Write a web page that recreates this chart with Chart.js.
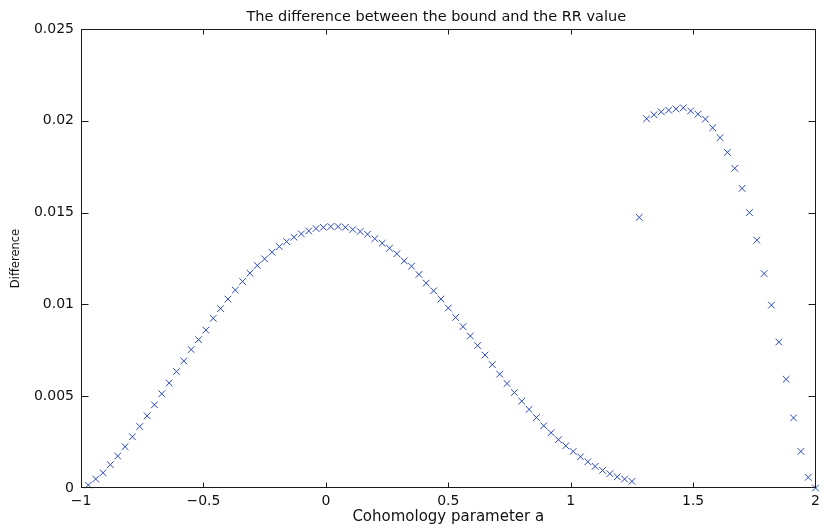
<!DOCTYPE html>
<html>
<head>
<meta charset="utf-8">
<script src="https://cdn.jsdelivr.net/npm/chart.js@4.4.0/dist/chart.umd.min.js"></script>
<style>
html, body { margin: 0; padding: 0; background: #fff; }
#wrap { width: 825px; height: 529px; }
</style>
</head>
<body>
<div id="wrap"><canvas id="chart" width="825" height="529"></canvas></div>
<script>
// Cohomology parameter a (x values of the markers)
const paramA = [
    -0.97, -0.94, -0.91, -0.88, -0.85, -0.82, -0.79, -0.76, -0.73, -0.70,
    -0.67, -0.64, -0.61, -0.58, -0.55, -0.52, -0.49, -0.46, -0.43, -0.40,
    -0.37, -0.34, -0.31, -0.28, -0.25, -0.22, -0.19, -0.16, -0.13, -0.10,
    -0.07, -0.04, -0.01, 0.02, 0.05, 0.08, 0.11, 0.14, 0.17, 0.20,
    0.23, 0.26, 0.29, 0.32, 0.35, 0.38, 0.41, 0.44, 0.47, 0.50,
    0.53, 0.56, 0.59, 0.62, 0.65, 0.68, 0.71, 0.74, 0.77, 0.80,
    0.83, 0.86, 0.89, 0.92, 0.95, 0.98, 1.01, 1.04, 1.07, 1.10,
    1.13, 1.16, 1.19, 1.22, 1.25, 1.28, 1.31, 1.34, 1.37, 1.40,
    1.43, 1.46, 1.49, 1.52, 1.55, 1.58, 1.61, 1.64, 1.67, 1.70,
    1.73, 1.76, 1.79, 1.82, 1.85, 1.88, 1.91, 1.94, 1.97, 2.00
];

// Difference between the bound and the RR value
const difference = [
    0.00016, 0.00049, 0.00083, 0.00127, 0.00174, 0.00225, 0.00279, 0.00335, 0.00393, 0.00453,
    0.00513, 0.00572, 0.00634, 0.00692, 0.00754, 0.00808, 0.00860, 0.00924, 0.00977, 0.01029,
    0.01078, 0.01125, 0.01170, 0.01212, 0.01248, 0.01284, 0.01315, 0.01342, 0.01366, 0.01384,
    0.01400, 0.01413, 0.01420, 0.01424, 0.01424, 0.01420, 0.01408, 0.01397, 0.01382, 0.01358,
    0.01333, 0.01306, 0.01276, 0.01237, 0.01208, 0.01163, 0.01116, 0.01074, 0.01029, 0.00980,
    0.00929, 0.00879, 0.00828, 0.00776, 0.00724, 0.00672, 0.00620, 0.00569, 0.00520, 0.00473,
    0.00428, 0.00384, 0.00339, 0.00301, 0.00263, 0.00230, 0.00199, 0.00170, 0.00143, 0.00118,
    0.00096, 0.00078, 0.00061, 0.00049, 0.00036, 0.01474, 0.02011, 0.02033, 0.02049, 0.02058,
    0.02065, 0.02071, 0.02054, 0.02036, 0.02009, 0.01962, 0.01908, 0.01828, 0.01741, 0.01632,
    0.01500, 0.01350, 0.01168, 0.00996, 0.00795, 0.00592, 0.00382, 0.00199, 0.00058, 0.00000
];

const chartTitle = 'The difference between the bound and the RR value';
const xTitle = 'Cohomology parameter a';
const yTitle = 'Difference';

// Colors / fonts
const markerBlue = 'rgb(40, 70, 190)';
const axisColor = '#1a1a1a';
const fontFamily = '"DejaVu Sans", Verdana, sans-serif';

// MATLAB-like box, inward ticks and title
const matlabBox = {
    id: 'matlabBox',
    afterDraw(chart) {
        const ctx = chart.ctx;
        const a = chart.chartArea;
        const x = chart.scales.x;
        const y = chart.scales.y;
        const L = Math.round(a.left) + 0.5;
        const R = Math.round(a.right) - 0.5;
        const T = Math.round(a.top) + 0.5;
        const B = Math.round(a.bottom) - 0.5;
        ctx.save();
        ctx.strokeStyle = axisColor;
        ctx.lineWidth = 1;
        ctx.strokeRect(L, T, R - L, B - T);
        ctx.beginPath();
        x.ticks.forEach(t => {
            const px = Math.round(x.getPixelForValue(t.value)) + 0.5;
            if (px <= L + 1 || px >= R - 1) return;
            ctx.moveTo(px, B); ctx.lineTo(px, B - 5);
            ctx.moveTo(px, T); ctx.lineTo(px, T + 5);
        });
        y.ticks.forEach(t => {
            const py = Math.round(y.getPixelForValue(t.value)) + 0.5;
            if (py <= T + 1 || py >= B - 1) return;
            ctx.moveTo(L, py); ctx.lineTo(L + 7, py);
            ctx.moveTo(R, py); ctx.lineTo(R - 7, py);
        });
        ctx.stroke();
        // title
        ctx.fillStyle = '#111';
        ctx.font = '14.5px ' + fontFamily;
        ctx.textAlign = 'center';
        ctx.textBaseline = 'alphabetic';
        ctx.fillText(chartTitle, (a.left + a.right) / 2 - 12, 21);
        ctx.restore();
    }
};

document.addEventListener('DOMContentLoaded', function() {
    const points = paramA.map((a, i) => ({ x: a, y: difference[i] }));
    const ctx = document.getElementById('chart').getContext('2d');

    new Chart(ctx, {
        type: 'scatter',
        data: {
            datasets: [{
                label: yTitle,
                data: points,
                showLine: false,
                pointStyle: 'crossRot',
                pointRadius: 4.7,
                pointHoverRadius: 4.7,
                borderColor: markerBlue,
                backgroundColor: markerBlue,
                borderWidth: 1,
                clip: false
            }]
        },
        options: {
            responsive: false,
            animation: false,
            events: [],
            layout: {
                padding: { top: 29, right: 3, bottom: 0, left: 0 }
            },
            plugins: {
                legend: { display: false },
                tooltip: { enabled: false },
                title: { display: false }
            },
            scales: {
                x: {
                    type: 'linear',
                    min: -1,
                    max: 2,
                    afterFit: s => { s.height = 41; },
                    grid: { display: false, drawTicks: false, tickLength: 0 },
                    border: { display: false },
                    ticks: {
                        stepSize: 0.5,
                        padding: 5,
                        color: '#111',
                        maxRotation: 0,
                        font: { family: fontFamily, size: 14 },
                        callback: v => String(parseFloat(v.toFixed(2))).replace('-', '\u2212')
                    },
                    title: {
                        display: true,
                        text: xTitle,
                        color: '#111',
                        font: { family: fontFamily, size: 15 },
                        padding: { top: 0, bottom: 3 }
                    }
                },
                y: {
                    min: 0,
                    max: 0.025,
                    afterFit: s => { s.width = 81; },
                    grid: { display: false, drawTicks: false, tickLength: 0 },
                    border: { display: false },
                    ticks: {
                        stepSize: 0.005,
                        padding: 7,
                        color: '#111',
                        font: { family: fontFamily, size: 14 },
                        callback: v => String(parseFloat(v.toFixed(4)))
                    },
                    title: {
                        display: true,
                        text: yTitle,
                        color: '#111',
                        font: { family: fontFamily, size: 11.5 },
                        padding: { top: 9, bottom: 0 }
                    }
                }
            }
        },
        plugins: [matlabBox]
    });
});
</script>
</body>
</html>
